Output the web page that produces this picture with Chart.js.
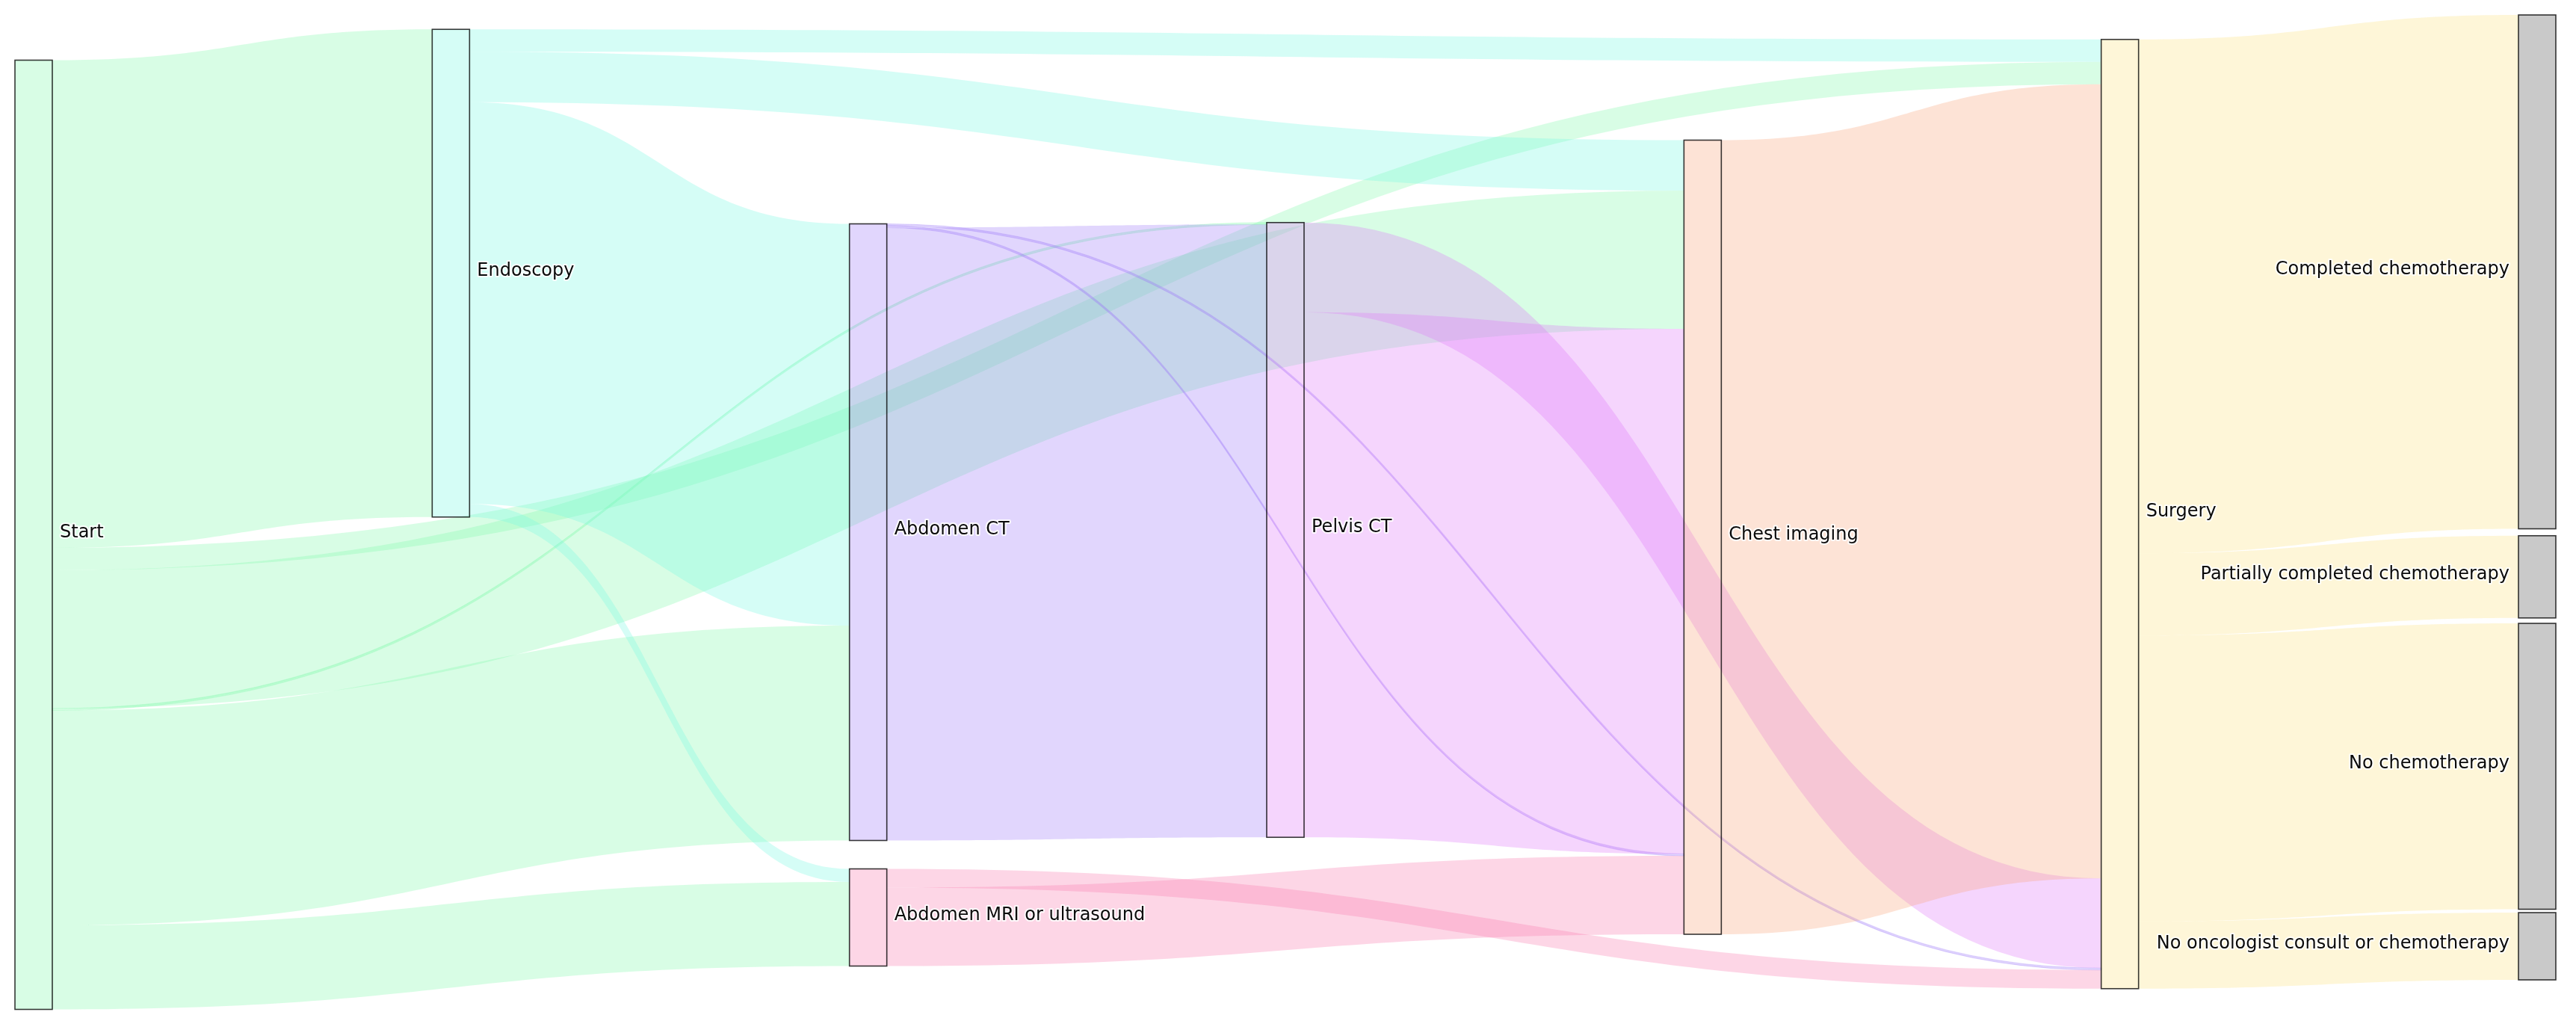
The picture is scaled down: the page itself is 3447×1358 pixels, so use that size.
<!DOCTYPE html>
<html>
<head>
<meta charset="utf-8">
<title>Diagnostic pathway</title>
<script src="https://cdn.jsdelivr.net/npm/chart.js@4.4.1/dist/chart.umd.min.js"></script>
<style>
  html, body { margin: 0; padding: 0; background: #fff; }
  #wrap { width: 3447px; height: 1358px; }
</style>
</head>
<body>
<div id="wrap"><canvas id="sankey" width="3447" height="1358"></canvas></div>
<script>
// ---- data (patients) ----
var nodeLabels = [
  'Start', 'Endoscopy', 'Abdomen CT', 'Abdomen MRI or ultrasound', 'Pelvis CT',
  'Chest imaging', 'Surgery', 'Completed chemotherapy',
  'Partially completed chemotherapy', 'No chemotherapy',
  'No oncologist consult or chemotherapy'
];
var linkSource = [0, 0, 0, 0, 0, 0, 1, 1, 1, 1, 2, 2, 2, 3, 3, 4, 4, 5, 6, 6, 6, 6];
var linkTarget = [1, 6, 5, 4, 2, 3, 6, 5, 2, 3, 6, 5, 4, 6, 5, 6, 5, 6, 7, 8, 9, 10];
var linkValue  = [261, 12, 74, 1, 115, 45, 12, 27, 215, 7, 1, 1, 328, 10, 42, 48, 281, 425, 275, 44, 153, 36];

// ---- layout (like plotly node.x / node.y) ----
var nodeColumn = [0, 1, 2, 2, 3, 4, 5, 6, 6, 6, 6];
var nodeTop = [24.2, 7.7, 111.8, 457, 111.1, 67, 13.1, 0, 278.7, 325.6, 480.4];
var yMax = 532.8;
var nodeWidth = 50;

// ---- style ----
var nodeColor = [
  'rgba(125,248,168,0.3)', 'rgba(115,248,225,0.3)', 'rgba(155,118,248,0.3)',
  'rgba(248,118,172,0.3)', 'rgba(222,115,248,0.3)', 'rgba(248,162,118,0.3)',
  'rgba(252,225,125,0.3)', 'rgba(0,0,0,0.21)', 'rgba(0,0,0,0.21)',
  'rgba(0,0,0,0.21)', 'rgba(0,0,0,0.21)'
];

function buildLayout() {
  var n = nodeLabels.length;
  var outs = [], ins = [], inSum = [], outSum = [];
  for (var i = 0; i < n; i++) { outs.push([]); ins.push([]); inSum.push(0); outSum.push(0); }
  linkValue.forEach(function (v, k) {
    outs[linkSource[k]].push(k);
    ins[linkTarget[k]].push(k);
    outSum[linkSource[k]] += v;
    inSum[linkTarget[k]] += v;
  });
  var outOff = [], inOff = [];
  // links leave / enter a node ordered by the other end's top edge
  outs.forEach(function (list) {
    list.sort(function (a, b) { return nodeTop[linkTarget[a]] - nodeTop[linkTarget[b]] || a - b; });
    var acc = 0;
    list.forEach(function (k) { outOff[k] = acc; acc += linkValue[k]; });
  });
  ins.forEach(function (list) {
    list.sort(function (a, b) { return nodeTop[linkSource[a]] - nodeTop[linkSource[b]] || a - b; });
    var acc = 0;
    list.forEach(function (k) { inOff[k] = acc; acc += linkValue[k]; });
  });
  var nodeValue = inSum.map(function (v, i) { return Math.max(v, outSum[i]); });
  return { outOff: outOff, inOff: inOff, nodeValue: nodeValue };
}

var sankeyPlugin = {
  id: 'sankeyPlugin',
  afterDatasetsDraw: function (chart) {
    var ctx = chart.ctx;
    var xs = chart.scales.x, ys = chart.scales.y;
    var lay = buildLayout();
    function left(i) { return xs.getPixelForValue(nodeColumn[i]) - nodeWidth / 2; }

    ctx.save();
    // links
    linkValue.forEach(function (v, k) {
      var s = linkSource[k], t = linkTarget[k];
      var x0 = left(s) + nodeWidth, x1 = left(t);
      var y0a = ys.getPixelForValue(nodeTop[s] + lay.outOff[k]);
      var y0b = ys.getPixelForValue(nodeTop[s] + lay.outOff[k] + v);
      var y1a = ys.getPixelForValue(nodeTop[t] + lay.inOff[k]);
      var y1b = ys.getPixelForValue(nodeTop[t] + lay.inOff[k] + v);
      var xc = x0 + (x1 - x0) * 0.5;
      ctx.beginPath();
      ctx.moveTo(x0, y0a);
      ctx.bezierCurveTo(xc, y0a, xc, y1a, x1, y1a);
      ctx.lineTo(x1, y1b);
      ctx.bezierCurveTo(xc, y1b, xc, y0b, x0, y0b);
      ctx.closePath();
      ctx.fillStyle = nodeColor[s];
      ctx.fill();
      if (Math.abs(y0b - y0a) < 4) {
        // very thin flows read as a darker line in the original
        ctx.lineWidth = 1.2;
        ctx.strokeStyle = nodeColor[s];
        ctx.stroke();
      }
    });

    // nodes
    nodeLabels.forEach(function (label, i) {
      var x = left(i);
      var yTop = ys.getPixelForValue(nodeTop[i]);
      var yBot = ys.getPixelForValue(nodeTop[i] + lay.nodeValue[i]);
      ctx.fillStyle = nodeColor[i];
      ctx.fillRect(x, yTop, nodeWidth, yBot - yTop);
      ctx.lineWidth = 1.6;
      ctx.strokeStyle = 'rgba(0,0,0,0.78)';
      ctx.strokeRect(x, yTop, nodeWidth, yBot - yTop);
    });

    // labels
    ctx.font = '24px "DejaVu Sans", Verdana, sans-serif';
    ctx.textBaseline = 'middle';
    ctx.lineJoin = 'round';
    nodeLabels.forEach(function (label, i) {
      var x = left(i);
      var yMid = ys.getPixelForValue(nodeTop[i] + lay.nodeValue[i] / 2) - 3;
      var last = nodeColumn[i] === 6;
      var tx = last ? x - 12 : x + nodeWidth + 10;
      ctx.textAlign = last ? 'right' : 'left';
      ctx.lineWidth = 4;
      ctx.strokeStyle = 'rgba(255,255,255,0.85)';
      ctx.strokeText(label, tx, yMid);
      ctx.fillStyle = '#0a0a0a';
      ctx.fillText(label, tx, yMid);
    });
    ctx.restore();
  }
};

new Chart(document.getElementById('sankey'), {
  type: 'scatter',
  data: { datasets: [{ data: [], pointRadius: 0 }] },
  options: {
    responsive: false,
    animation: false,
    layout: { padding: { left: 45, right: 52, top: 20, bottom: 6 } },
    plugins: { legend: { display: false }, tooltip: { enabled: false } },
    scales: {
      x: { type: 'linear', min: 0, max: 6, display: false },
      y: { type: 'linear', min: 0, max: yMax, reverse: true, display: false }
    }
  },
  plugins: [sankeyPlugin]
});
</script>
</body>
</html>
